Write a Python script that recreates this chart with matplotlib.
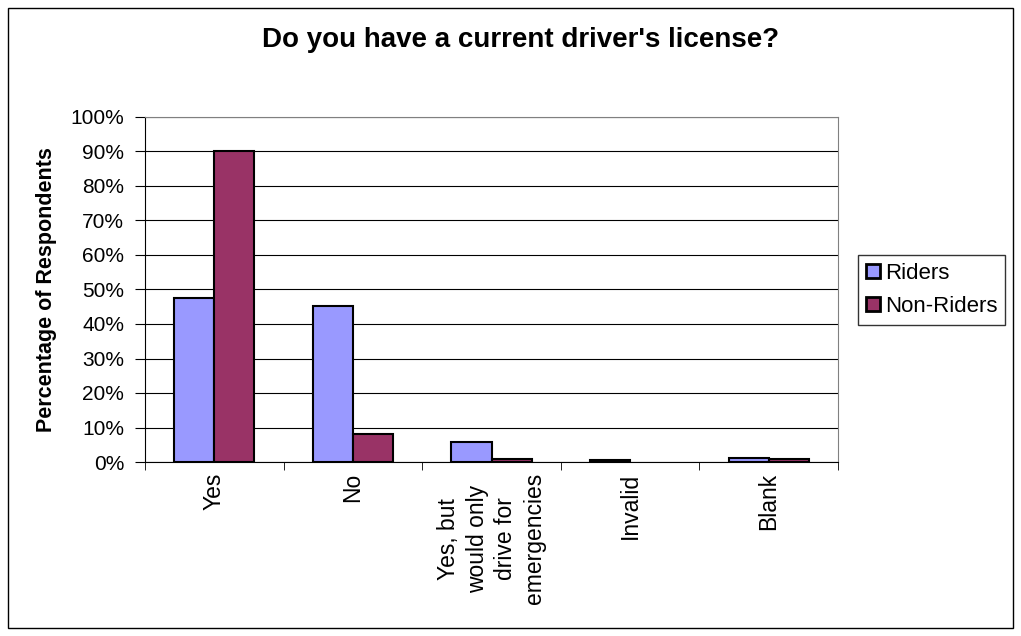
import numpy as np
import matplotlib.pyplot as plt
from matplotlib.patches import Rectangle
from matplotlib.ticker import FixedLocator

# ============================================================
# Data
# ============================================================

categories = ["Yes", "No", "Yes, but\nwould only\ndrive for\nemergencies", "Invalid", "Blank"]
riders = [47.5, 45.2, 5.8, 0.5, 1.2]
non_riders = [90.1, 8.1, 0.9, 0.0, 0.9]
series_names = ["Riders", "Non-Riders"]
y_ticks = [0, 10, 20, 30, 40, 50, 60, 70, 80, 90, 100]

rider_color = "#9999ff"
non_rider_color = "#993366"

plt.rcParams["font.family"] = ["Liberation Sans", "DejaVu Sans"]

fig = plt.figure(figsize=(10.21, 6.36), dpi=100)

# outer frame
fig.patches.append(Rectangle((8 / 1021, 8 / 636), 1005 / 1021, 620 / 636,
                             transform=fig.transFigure, fill=False,
                             edgecolor="black", linewidth=1))

ax = fig.add_axes([145 / 1021, 174 / 636, 693 / 1021, 345 / 636])

x = np.arange(len(categories))
width = 0.29

bars_r = ax.bar(x - width / 2, riders, width, color=rider_color, edgecolor="black",
                linewidth=1.5, label=series_names[0], zorder=3)
bars_n = ax.bar(x + width / 2, non_riders, width, color=non_rider_color, edgecolor="black",
                linewidth=1.5, label=series_names[1], zorder=3)

# zero-height bars draw no outline
for bar in list(bars_r) + list(bars_n):
    if bar.get_height() == 0:
        bar.set_visible(False)

ax.set_xlim(-0.5, len(categories) - 0.5)
ax.set_ylim(0, 100)
ax.set_yticks(y_ticks)
ax.set_yticklabels([f"{v}%" for v in y_ticks], fontsize=15)
ax.yaxis.grid(True, color="black", linewidth=0.8, zorder=0)

ax.set_xticks(x)
ax.set_xticklabels(categories, rotation=90, fontsize=16.5, va="top", ha="center",
                   multialignment="center", linespacing=1.3)
ax.tick_params(axis="x", length=0, pad=8)
ax.xaxis.set_minor_locator(FixedLocator(np.arange(-0.5, len(categories), 1.0)))
ax.tick_params(axis="x", which="minor", length=6, direction="out", color="black")
ax.tick_params(axis="y", length=7, direction="out", color="black", pad=8)

for side in ["top", "right"]:
    ax.spines[side].set_color("#808080")
for side in ["left", "bottom"]:
    ax.spines[side].set_color("black")

ax.set_ylabel("Percentage of Respondents", fontsize=15.5, fontweight="bold", labelpad=10)

fig.text(521 / 1021, 1 - 40 / 636, "Do you have a current driver's license?",
         ha="center", va="center", fontsize=20, fontweight="bold")

leg = fig.legend(loc="upper left", bbox_to_anchor=(858 / 1021, 1 - 255 / 636),
                 fontsize=16, frameon=True, fancybox=False, edgecolor="black",
                 handlelength=0.62, handleheight=0.62, handletextpad=0.25,
                 borderpad=0.35, labelspacing=0.55, borderaxespad=0)
leg.get_frame().set_linewidth(1)
for handle in leg.legend_handles:
    handle.set_linewidth(2)

fig.savefig("out.png", dpi=100)
